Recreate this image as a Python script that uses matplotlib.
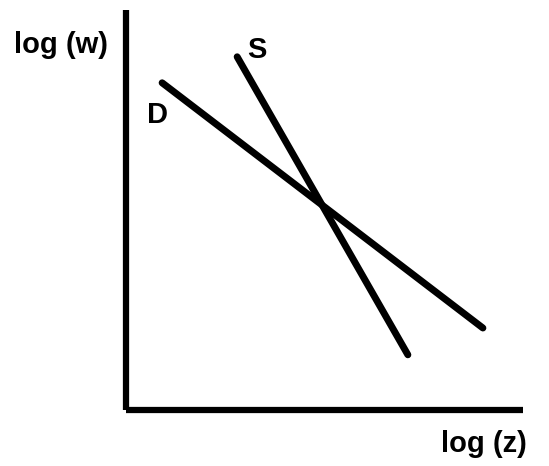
import matplotlib
matplotlib.use("Agg")
import matplotlib.pyplot as plt

# schematic lines, in axis units (0..1)
d_x = [0.091, 0.899]
d_y = [0.818, 0.205]
s_x = [0.280, 0.710]
s_y = [0.883, 0.138]

W, H = 549, 466
fig = plt.figure(figsize=(W / 100, H / 100), dpi=100)
ax = fig.add_axes([126 / W, (H - 410) / H, (523 - 126) / W, (410 - 10) / H])

ax.plot(d_x, d_y, color="black", lw=5, solid_capstyle="round")
ax.plot(s_x, s_y, color="black", lw=5, solid_capstyle="round")
ax.set_xlim(0, 1)
ax.set_ylim(0, 1)
ax.set_xticks([])
ax.set_yticks([])
for side in ["top", "right"]:
    ax.spines[side].set_visible(False)
for side in ["left", "bottom"]:
    ax.spines[side].set_linewidth(4.5)
    ax.spines[side].set_capstyle("butt")

font = dict(family="Liberation Sans", weight="bold", fontsize=21,
            ha="left", va="baseline")
fig.text(14 / W, 1 - 53 / H, "log (w)", **font)
fig.text(147 / W, 1 - 123 / H, "D", **font)
fig.text(247 / W, 1 - 58 / H, "S", **font)
fig.text(441 / W, 1 - 452 / H, "log (z)", **font)

fig.savefig("out.png", dpi=100)
